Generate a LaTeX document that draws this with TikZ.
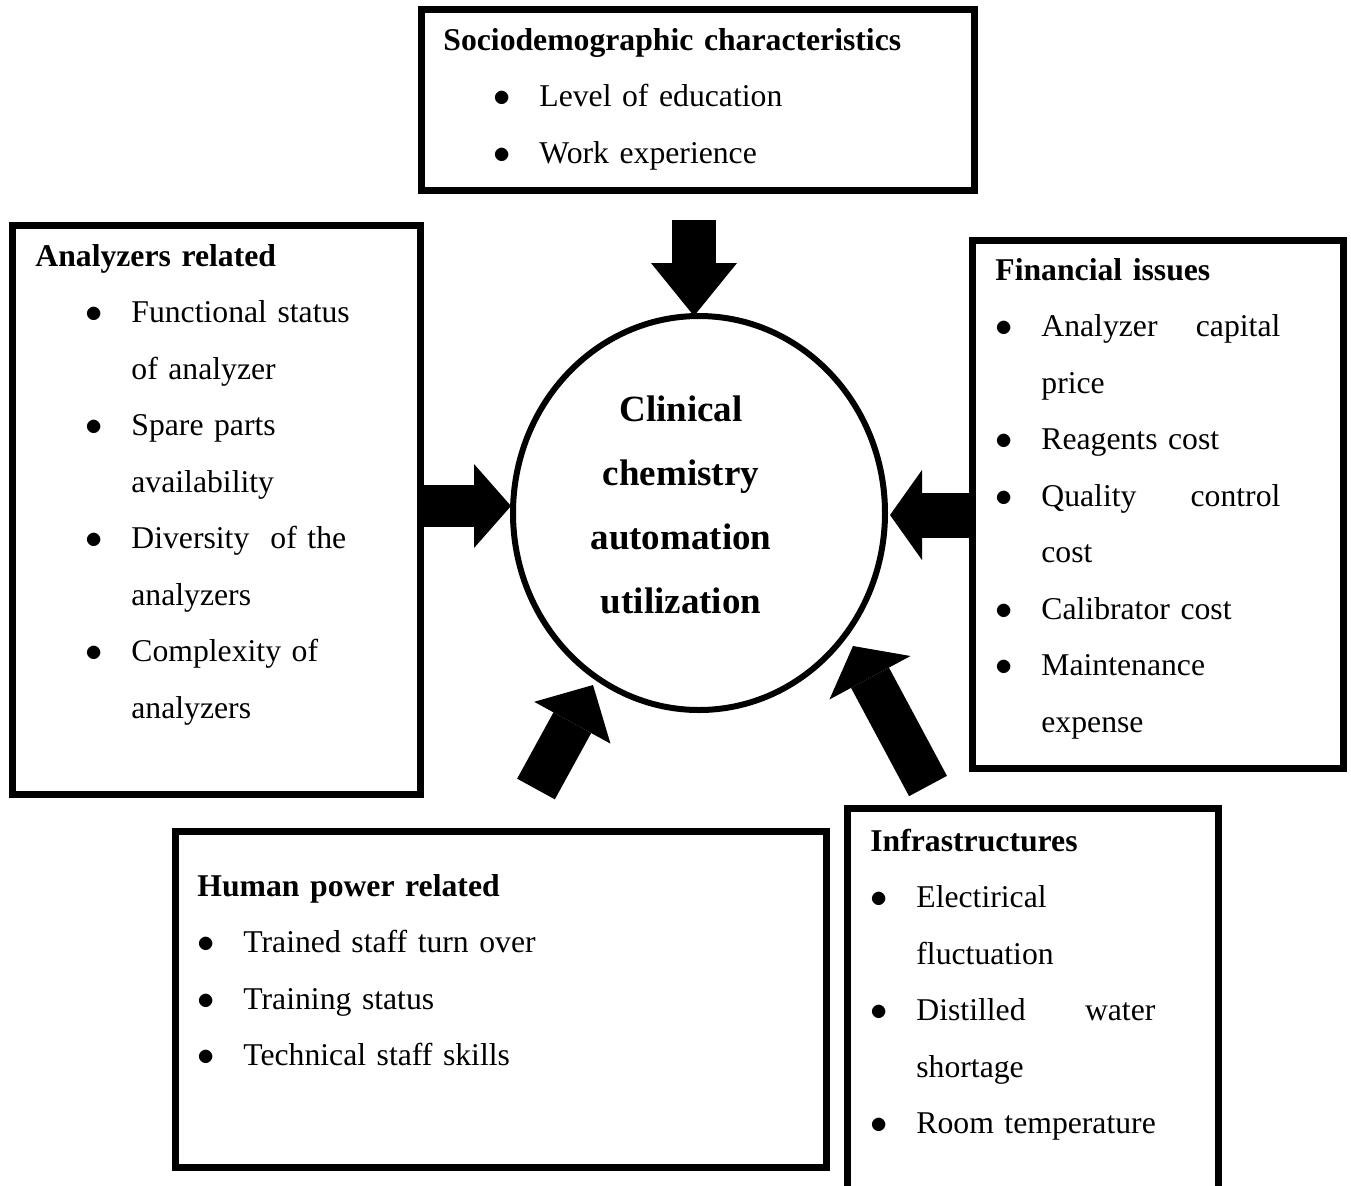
\documentclass[tikz,border=0pt]{standalone}
\usepackage{fontspec}
\setmainfont{Liberation Serif}
\usetikzlibrary{arrows.meta,shapes.geometric,fit}

% bullet line and its continuation (optional indent)
\newcommand{\bitem}[2][0pt]{\hspace*{#1}\makebox[23pt][l]{$\bullet$}#2}
\newcommand{\bcont}[2][0pt]{\hspace*{\dimexpr#1+23pt\relax}#2}
\newcommand{\spread}[2]{\makebox[119.5pt][l]{#1\hfill #2}}

\tikzset{
  factorbox/.style={draw, line width=3.5pt, inner sep=0pt},
  factortext/.style={anchor=base west, inner sep=0pt, text width=#1, align=left,
                     font=\fontsize{15.85pt}{28.25pt}\selectfont},
  coretext/.style={anchor=base, inner sep=0pt, text width=120pt, align=center,
                   font=\bfseries\fontsize{18.5pt}{32pt}\selectfont},
  fatarrow/.style n args={3}{line width=#1,
                   -{Triangle[width=#2, length=#3, line width=0pt]}},
}

\begin{document}
\begin{tikzpicture}[x=0.5pt, y=-0.5pt]
    \useasboundingbox (0,0) rectangle (1351,1185);
    % boxes
    \node[factorbox, fit={(421,9) (974,190)}] (socio) {};
    \node[factorbox, fit={(12,225) (420,794)}] (analyzer) {};
    \node[factorbox, fit={(972,240) (1343,768)}] (finance) {};
    \node[factorbox, fit={(175,831) (826,1167)}] (human) {};
    \node[factorbox, fit={(847,808) (1218,1200)}] (infra) {};
    % centre
    \node[draw, ellipse, line width=3pt, minimum width=186pt, minimum height=197pt,
          inner sep=0pt] (clinic) at (699,513) {};
    \node[coretext] (clinictext) at (681,421) {Clinical\\chemistry\\automation\\utilization};
    % box texts
    \node[factortext=300pt] (sociolist) at (443,50) {\textbf{Sociodemographic characteristics}\\
        \bitem[25pt]{Level of education}\\
        \bitem[25pt]{Work experience}};
    \node[factortext=190pt] (analyzerlist) at (35,266) {\textbf{Analyzers related}\\
        \bitem[25pt]{Functional status}\\
        \bcont[25pt]{of analyzer}\\
        \bitem[25pt]{Spare parts}\\
        \bcont[25pt]{availability}\\
        \bitem[25pt]{Diversity\ \ of the}\\
        \bcont[25pt]{analyzers}\\
        \bitem[25pt]{Complexity of}\\
        \bcont[25pt]{analyzers}};
    \node[factortext=170pt] (financelist) at (995,280) {\textbf{Financial issues}\\
        \bitem{\spread{Analyzer}{capital}}\\
        \bcont{price}\\
        \bitem{Reagents cost}\\
        \bitem{\spread{Quality}{control}}\\
        \bcont{cost}\\
        \bitem{Calibrator cost}\\
        \bitem{Maintenance}\\
        \bcont{expense}};
    \node[factortext=300pt] (humanlist) at (197,896) {\textbf{Human power related}\\
        \bitem{Trained staff turn over}\\
        \bitem{Training status}\\
        \bitem{Technical staff skills}};
    \node[factortext=170pt] (infralist) at (870,851) {\textbf{Infrastructures}\\
        \bitem{Electirical}\\
        \bcont{fluctuation}\\
        \bitem{\spread{Distilled}{water}}\\
        \bcont{shortage}\\
        \bitem{Room temperature}};
    % arrow ends
    \coordinate (sociotail) at (694,220);
    \coordinate (sociotip) at (694,316);
    \coordinate (analyzertail) at (421,506);
    \coordinate (analyzertip) at (511,506);
    \coordinate (financetail) at (972,515);
    \coordinate (financetip) at (890,515);
    \coordinate (humantail) at (536,789);
    \coordinate (humantip) at (593,685);
    \coordinate (infratail) at (928,786);
    \coordinate (infratip) at (853,646);
    % arrows
    \draw[fatarrow={22pt}{43pt}{26.5pt}] (sociotail) -- (sociotip);
    \draw[fatarrow={21pt}{42pt}{18.5pt}] (analyzertail) -- (analyzertip);
    \draw[fatarrow={22.5pt}{45pt}{16pt}] (financetail) -- (financetip);
    \draw[fatarrow={21.5pt}{43.5pt}{21.5pt}] (humantail) -- (humantip);
    \draw[fatarrow={21.5pt}{46pt}{18pt}] (infratail) -- (infratip);
\end{tikzpicture}
\end{document}
